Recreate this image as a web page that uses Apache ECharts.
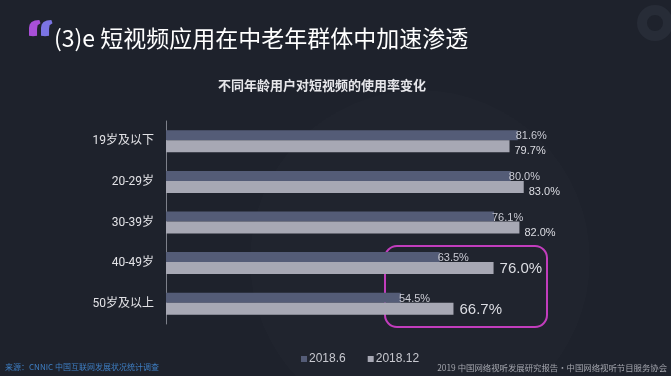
<!DOCTYPE html>
<html><head><meta charset="utf-8">
<script src="https://cdn.jsdelivr.net/npm/echarts@6/dist/echarts.min.js"></script>
<style>html,body{margin:0;padding:0;background:#1e222c;}#c{width:671px;height:376px;}</style>
</head><body><div id="c"></div>
<script>
var categories = ['19岁及以下', '20-29岁', '30-39岁', '40-49岁', '50岁及以上'];
var series2018_6 = [81.6, 80.0, 76.1, 63.5, 54.5];
var series2018_12 = [79.7, 83.0, 82.0, 76.0, 66.7];
var seriesNames = ['2018.6', '2018.12'];

var chart = echarts.init(document.getElementById('c'));
var cats = categories.slice().reverse();
var d1 = series2018_6.slice().reverse();
var d2 = series2018_12.slice().reverse();

function fmt(p){ return p.value.toFixed(1) + '%'; }

var d2items = d2.map(function(v, i){
  var big = (i < 2);
  return {value: v, label: big ? {fontSize: 15, offset: [1, 1]} : {fontSize: 11, offset: [0, 5]}};
});

var hook = [[0,14],[0,7],[0.56,3.94],[2.25,1.75],[5.06,0.44],[9,0],[10,3],[7.5,4.75],[7,8],[7,14],[3.5,14.6]];

chart.setOption({
  backgroundColor: '#1e222c',
  animation: false,
  grid: {left: 166, top: 121, height: 203, width: 431},
  xAxis: {type: 'value', min: 0, max: 100, show: false},
  yAxis: {
    type: 'category', data: cats,
    axisLine: {lineStyle: {color: '#7d808a', width: 1}},
    axisTick: {inside: true, length: 4, lineStyle: {color: '#7d808a'}},
    axisLabel: {color: '#e2e2e6', fontSize: 12, margin: 12, fontFamily: 'Roboto, "Noto Sans CJK SC", sans-serif'}
  },
  legend: {
    data: seriesNames, top: 348, left: 296, itemWidth: 6, itemHeight: 6, itemGap: 22,
    icon: 'rect', textStyle: {color: '#c8c9d0', fontSize: 12, padding: [0,0,0,-3]}
  },
  series: [
    {name: seriesNames[0], type: 'bar', data: d1, barWidth: 10, barGap: '0%',
     itemStyle: {color: '#545c77'},
     label: {show: true, position: 'right', distance: -2, color: '#c9cad3', fontSize: 11, formatter: fmt, offset: [0, 1]}},
    {name: seriesNames[1], type: 'bar', data: d2items, barWidth: 12,
     itemStyle: {color: '#a7a8b4'},
     label: {show: true, position: 'right', distance: 5, color: '#dcdde3', fontSize: 11, formatter: fmt}}
  ],
  graphic: [
    {type: 'ring', shape: {cx: 655, cy: 23, r: 18, r0: 8}, style: {fill: '#272c37'}, z: -1},
    {type: 'circle', shape: {cx: 420, cy: 260, r: 170}, style: {fill: 'rgba(255,255,255,0.012)'}, z: -1},
    {type: 'polygon', x: 29, y: 20, scaleX: 1.15, scaleY: 1.12, shape: {points: hook}, style: {fill: '#a94fd8'}},
    {type: 'polygon', x: 41, y: 20, scaleX: 1.15, scaleY: 1.12, shape: {points: hook}, style: {fill: '#7b74e4'}},
    {type: 'text', left: 54, top: 27, style: {text: '(3)e 短视频应用在中老年群体中加速渗透', font: '23px "Noto Sans CJK SC", sans-serif', fill: '#ffffff'}},
    {type: 'text', left: 218, top: 79, style: {text: '不同年龄用户对短视频的使用率变化', font: 'bold 13px "Noto Sans CJK SC", sans-serif', fill: '#e6e6ea'}},
    {type: 'rect', shape: {x: 385, y: 246, width: 162, height: 81, r: 12}, style: {fill: 'none', stroke: '#c23dbd', lineWidth: 2}},
    {type: 'text', left: 5, top: 363, style: {text: '来源：CNNIC 中国互联网发展状况统计调查', font: '8px "Noto Sans CJK SC", sans-serif', fill: '#3f7fc4'}},
    {type: 'text', right: 4, top: 364, style: {text: '2019 中国网络视听发展研究报告·中国网络视听节目服务协会', font: '8.4px "Noto Sans CJK SC", sans-serif', fill: '#a3a5ad'}}
  ]
});
</script></body></html>
